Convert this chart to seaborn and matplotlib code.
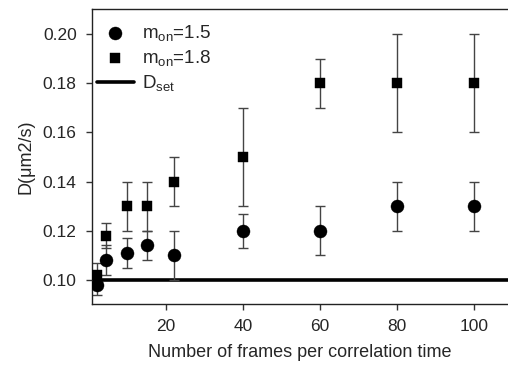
import numpy as np
import pandas as pd
import matplotlib
matplotlib.use("Agg")
import matplotlib.pyplot as plt
import seaborn as sns

# Frames per correlation time
frames = [2, 4.5, 10, 15, 22, 40, 60, 80, 100]

# Estimated diffusion coefficient and its error, m_on = 1.5
d_15 = [0.098, 0.108, 0.111, 0.114, 0.110, 0.120, 0.120, 0.130, 0.130]
err_15 = [0.004, 0.006, 0.006, 0.006, 0.010, 0.007, 0.010, 0.010, 0.010]

# Estimated diffusion coefficient and its error, m_on = 1.8
d_18 = [0.102, 0.118, 0.130, 0.130, 0.140, 0.150, 0.180, 0.180, 0.180]
err_18 = [0.005, 0.005, 0.010, 0.010, 0.010, 0.020, 0.010, 0.020, 0.020]

# Set diffusion coefficient
d_set = 0.10

x_ticks = [20, 40, 60, 80, 100]
y_ticks = [0.10, 0.12, 0.14, 0.16, 0.18, 0.20]

sns.set_theme(style="ticks")
plt.rcParams["font.family"] = ["Liberation Sans", "DejaVu Sans"]
plt.rcParams["mathtext.fontset"] = "custom"
plt.rcParams["mathtext.rm"] = "Liberation Sans"
plt.rcParams["mathtext.it"] = "Liberation Sans"

df = pd.DataFrame({
    "frames": frames * 2,
    "D": d_15 + d_18,
    "err": err_15 + err_18,
    "series": ["1.5"] * len(frames) + ["1.8"] * len(frames),
})

fig = plt.figure(figsize=(5.08, 3.68), dpi=100)
ax = fig.add_axes([0.181, 0.174, 0.819, 0.8015])

# error bars first so markers sit on top
for key in ["1.5", "1.8"]:
    sub = df[df["series"] == key]
    ax.errorbar(sub["frames"], sub["D"], yerr=sub["err"], fmt="none",
                ecolor="#444444", elinewidth=1.0, capsize=3.6, capthick=1.0,
                zorder=2)

sns.scatterplot(data=df[df["series"] == "1.5"], x="frames", y="D", ax=ax,
                marker="o", s=88, color="black", edgecolor="black",
                linewidth=0.3, zorder=3, label=r"m$_{\mathrm{on}}$=1.5")
sns.scatterplot(data=df[df["series"] == "1.8"], x="frames", y="D", ax=ax,
                marker="s", s=60, color="black", edgecolor="black",
                linewidth=0.3, zorder=3, label=r"m$_{\mathrm{on}}$=1.8")
ax.axhline(d_set, color="black", lw=2.6, zorder=1, label=r"D$_{\mathrm{set}}$")

ax.set_xlim(0.8, 108.8)
ax.set_ylim(0.0902, 0.2102)
ax.set_xticks(x_ticks)
ax.set_yticks(y_ticks)
ax.set_yticklabels([f"{v:.2f}" for v in y_ticks])

ax.set_xlabel("Number of frames per correlation time", fontsize=13, labelpad=7)
ax.set_ylabel("D(\u03bcm2/s)", fontsize=13, labelpad=6)
ax.tick_params(axis="both", labelsize=12.5, direction="out", length=4,
               width=1.0, color="#333333", pad=7)

for side in ["left", "bottom", "top"]:
    ax.spines[side].set_linewidth(1.0)
    ax.spines[side].set_color("#222222")
ax.spines["right"].set_visible(False)

leg = ax.legend(loc="upper left", frameon=False, fontsize=13.5,
                handlelength=2.0, handletextpad=0.4, labelspacing=0.27,
                borderaxespad=0.0, bbox_to_anchor=(-0.007, 0.978))

fig.savefig("out.png", dpi=100)
